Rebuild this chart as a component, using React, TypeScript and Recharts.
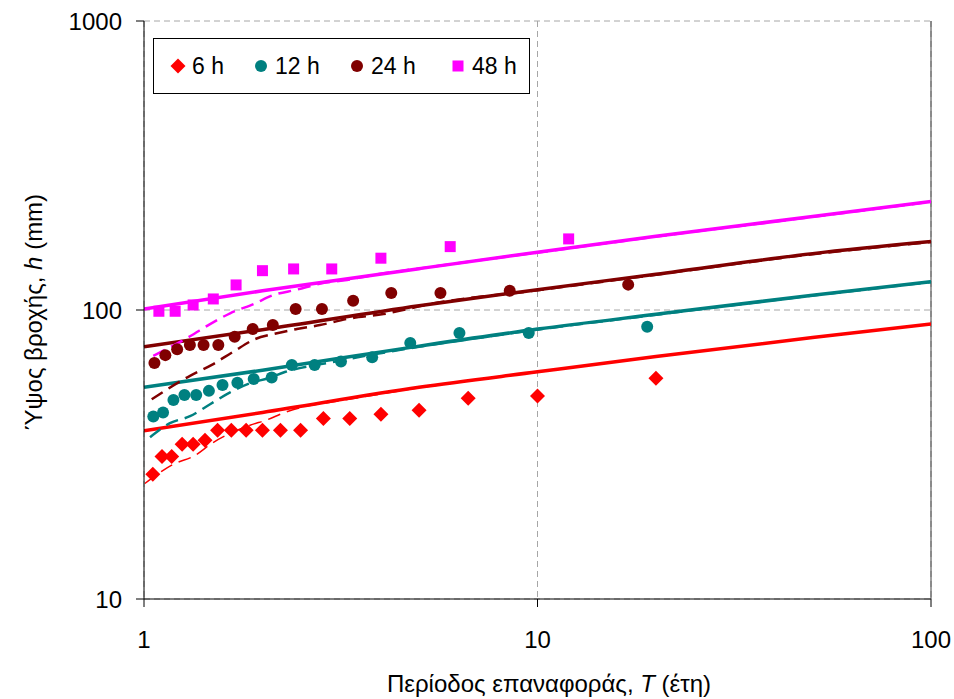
import {
  CartesianGrid,
  ComposedChart,
  Label,
  Legend,
  Line,
  ReferenceLine,
  Scatter,
  XAxis,
  YAxis,
} from "recharts";

const FONT = '"Liberation Sans", Arial, sans-serif';

const xTicks = [1, 10, 100];
const yTicks = [10, 100, 1000];

// observed maxima, empirical return period T (years) vs depth h (mm)
const t6 = [1.053, 1.111, 1.176, 1.25, 1.333, 1.429, 1.538, 1.667, 1.818, 2.0, 2.222, 2.5, 2.857, 3.333, 4.0, 5.0, 6.667, 10.0, 20.0];
const h6 = [27.0, 31.1, 31.1, 34.3, 34.3, 35.4, 38.4, 38.4, 38.4, 38.4, 38.4, 38.4, 42.1, 42.1, 43.6, 45.0, 49.5, 50.4, 58.1];

const t12 = [1.056, 1.118, 1.188, 1.267, 1.357, 1.462, 1.583, 1.727, 1.9, 2.111, 2.375, 2.714, 3.167, 3.8, 4.75, 6.333, 9.5, 19.0];
const h12 = [42.8, 44.2, 48.8, 50.8, 50.8, 52.5, 55.0, 56.0, 57.7, 58.4, 64.5, 64.5, 66.4, 68.6, 76.9, 83.2, 83.2, 87.5];

const t24 = [1.063, 1.133, 1.214, 1.308, 1.417, 1.545, 1.7, 1.889, 2.125, 2.429, 2.833, 3.4, 4.25, 5.667, 8.5, 17.0];
const h24 = [65.5, 69.8, 73.2, 75.6, 75.6, 75.6, 80.8, 85.9, 88.7, 100.8, 100.8, 107.7, 114.5, 114.5, 116.6, 122.4];

const t48 = [1.091, 1.2, 1.333, 1.5, 1.714, 2.0, 2.4, 3.0, 4.0, 6.0, 12.0];
const h48 = [99.0, 99.0, 104.1, 109.2, 122.1, 136.8, 138.7, 138.7, 151.1, 165.7, 176.2];

// fitted curves (solid)
const fitT = [1, 2, 5, 10, 20, 50, 100];
const fit6 = [38.2, 44.2, 54.0, 61.1, 69.0, 80.3, 89.4];
const fit12 = [54.0, 61.9, 75.0, 85.9, 96.6, 112.5, 125.3];
const fit24 = [74.6, 85.5, 103.5, 117.6, 133.0, 156.7, 172.5];
const fit48 = [100.8, 116.5, 139.0, 158.5, 180.0, 210.5, 237.4];

// second fit (dashed)
const dashT6 = [1.005, 1.111, 1.185, 1.348, 1.489, 1.859, 2.055, 2.259, 2.598, 3, 5, 10, 20, 50, 100];
const dash6 = [25.1, 27.7, 29.2, 31.4, 34.6, 39.9, 41.7, 44.0, 46.5, 48.0, 53.8, 61.0, 68.9, 80.2, 89.3];

const dashT12 = [1.036, 1.164, 1.309, 1.472, 1.655, 1.86, 2.07, 2.28, 3, 5, 10, 20, 50, 100];
const dash12 = [36.3, 40.6, 42.9, 47.2, 51.9, 55.8, 58.1, 61.0, 66.0, 74.6, 85.5, 96.3, 112.2, 125.0];

const dashT24 = [1.046, 1.309, 1.487, 1.686, 1.916, 2.133, 2.445, 2.8, 3.28, 4.06, 5.34, 10, 20, 50, 100];
const dash24 = [49.1, 59.2, 64.6, 71.7, 79.3, 82.6, 85.9, 88.7, 93.1, 96.8, 104.9, 117.0, 132.5, 156.0, 172.0];

const dashT48 = [1.056, 1.309, 1.472, 1.655, 1.899, 2.134, 2.446, 2.83, 3.28, 3.83, 4.56, 6, 10, 20, 50, 100];
const dash48 = [69.4, 81.1, 89.4, 97.4, 104.9, 112.7, 117.6, 123.7, 127.1, 132.2, 136.8, 144.0, 158.0, 179.5, 210.0, 237.0];

const rows = (ts: number[], hs: number[]) => ts.map((T, i) => ({ T, h: hs[i] }));

type ShapeProps = { cx?: number; cy?: number; fill?: string };

const DiamondShape = ({ cx = 0, cy = 0, fill }: ShapeProps) => (
  <polygon points={`${cx},${cy - 7.5} ${cx + 7.5},${cy} ${cx},${cy + 7.5} ${cx - 7.5},${cy}`} fill={fill} />
);
const CircleShape = ({ cx = 0, cy = 0, fill }: ShapeProps) => <circle cx={cx} cy={cy} r={6} fill={fill} />;
const SquareShape = ({ cx = 0, cy = 0, fill }: ShapeProps) => (
  <rect x={cx - 5.5} y={cy - 5.5} width={11} height={11} fill={fill} />
);

const series = [
  { name: "6 h", color: "#FF0000", shape: DiamondShape, t: t6, h: h6, fit: fit6, dT: dashT6, d: dash6, dw: 1.5 },
  { name: "12 h", color: "#008080", shape: CircleShape, t: t12, h: h12, fit: fit12, dT: dashT12, d: dash12, dw: 2.5 },
  { name: "24 h", color: "#800000", shape: CircleShape, t: t24, h: h24, fit: fit24, dT: dashT24, d: dash24, dw: 2.5 },
  { name: "48 h", color: "#FF00FF", shape: SquareShape, t: t48, h: h48, fit: fit48, dT: dashT48, d: dash48, dw: 2.5 },
];

const legendIconX = [24, 107, 203, 304];

const renderLegend = () => (
  <div
    style={{
      position: "relative",
      width: 377,
      height: 56,
      boxSizing: "border-box",
      border: "1px solid #000",
      background: "#fff",
      fontFamily: FONT,
      fontSize: 23,
      color: "#000",
    }}
  >
    {series.map((s, i) => {
      const Icon = s.shape;
      return (
        <div
          key={s.name}
          style={{
            position: "absolute",
            left: legendIconX[i] - 8,
            top: 0,
            height: 54,
            display: "flex",
            alignItems: "center",
            whiteSpace: "nowrap",
          }}
        >
          <svg width={16} height={16}>
            <Icon cx={8} cy={8} fill={s.color} />
          </svg>
          <span style={{ marginLeft: 6 }}>{s.name}</span>
        </div>
      );
    })}
  </div>
);

export default function App() {
  return (
    <div style={{ position: "absolute", left: 0, top: 0, width: 954, height: 699, background: "#fff" }}>
      <ComposedChart
        width={954}
        height={699}
        margin={{ top: 21, right: 23, bottom: 40, left: 64 }}
        style={{ fontFamily: FONT }}
      >
        <CartesianGrid stroke="#a6a6a6" strokeDasharray="6 4" />
        <XAxis
          dataKey="T"
          type="number"
          scale="log"
          domain={[1, 100]}
          ticks={xTicks}
          allowDataOverflow
          height={60}
          stroke="#000"
          tickSize={8}
          tickMargin={24}
          tick={{ fill: "#000", fontSize: 24, fontFamily: FONT }}
        >
          <Label
            content={() => (
              <text x={549} y={683} textAnchor="middle" dominantBaseline="central" fontSize={24} fontFamily={FONT} fill="#000">
                Περίοδος επαναφοράς, <tspan fontStyle="italic">T</tspan> (έτη)
              </text>
            )}
          />
        </XAxis>
        <YAxis
          dataKey="h"
          type="number"
          scale="log"
          domain={[10, 1000]}
          ticks={yTicks}
          allowDataOverflow
          width={80}
          stroke="#000"
          tickSize={8}
          tickMargin={14}
          tick={{ fill: "#000", fontSize: 24, fontFamily: FONT }}
        >
          <Label
            content={() => (
              <text
                x={33}
                y={312}
                transform="rotate(-90 33 312)"
                textAnchor="middle"
                dominantBaseline="central"
                fontSize={24}
                fontFamily={FONT}
                fill="#000"
              >
                Ύψος βροχής, <tspan fontStyle="italic">h</tspan> (mm)
              </text>
            )}
          />
        </YAxis>
        <ReferenceLine x={100} stroke="#404040" strokeWidth={1} />

        {series.map((s) => (
          <Line
            key={`fit-${s.name}`}
            data={rows(fitT, s.fit)}
            dataKey="h"
            type="monotone"
            stroke={s.color}
            strokeWidth={3.5}
            dot={false}
            activeDot={false}
            legendType="none"
            isAnimationActive={false}
          />
        ))}
        {series.map((s) => (
          <Line
            key={`dash-${s.name}`}
            data={rows(s.dT, s.d)}
            dataKey="h"
            type="monotone"
            stroke={s.color}
            strokeWidth={s.dw}
            strokeDasharray="13 7"
            dot={false}
            activeDot={false}
            legendType="none"
            isAnimationActive={false}
          />
        ))}
        {series.map((s) => (
          <Scatter
            key={`obs-${s.name}`}
            name={s.name}
            data={rows(s.t, s.h)}
            dataKey="h"
            fill={s.color}
            shape={s.shape}
            isAnimationActive={false}
          />
        ))}

        <Legend
          layout="horizontal"
          verticalAlign="middle"
          align="center"
          content={renderLegend}
          wrapperStyle={{ position: "absolute", left: 153, top: 38, width: 377, height: 56 }}
        />
      </ComposedChart>
    </div>
  );
}
